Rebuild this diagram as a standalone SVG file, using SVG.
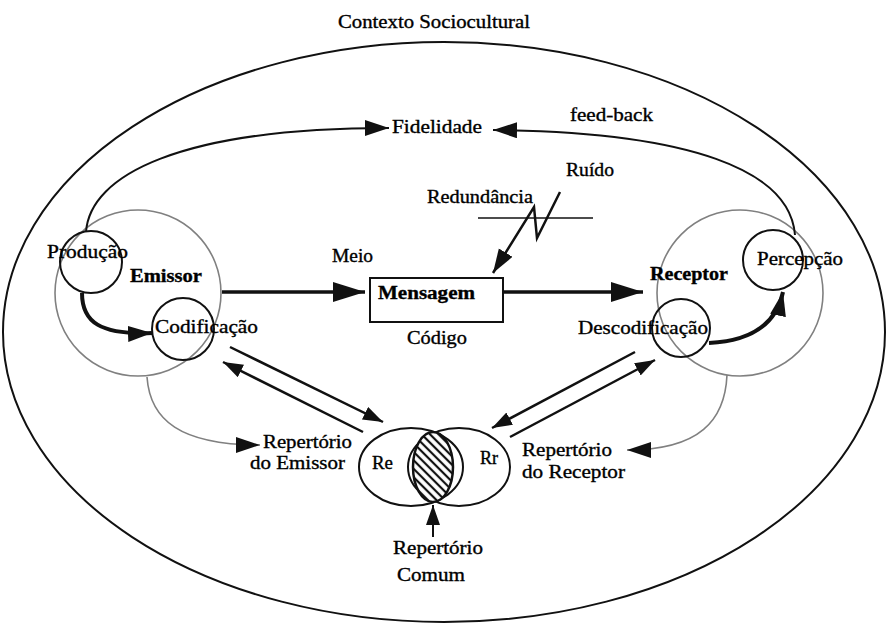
<svg xmlns="http://www.w3.org/2000/svg" width="888" height="627" viewBox="0 0 888 627">
<style>
text{font-family:"Liberation Serif","DejaVu Serif","Times New Roman",serif;font-size:18px;fill:#000;stroke:#000;stroke-width:0.35}
.b{font-weight:bold}
.k{fill:none;stroke:#111;stroke-width:2}
.g{fill:none;stroke:#808080;stroke-width:1.6}
.t{fill:none;stroke:#111;stroke-width:4}
</style>
<defs>
<marker id="big" markerUnits="userSpaceOnUse" markerWidth="34" markerHeight="22" refX="32" refY="10" orient="auto"><path d="M0,0 L32,10 L0,20 z" fill="#111"/></marker>
<marker id="med" markerUnits="userSpaceOnUse" markerWidth="26" markerHeight="18" refX="24" refY="8" orient="auto"><path d="M0,0 L24,8 L0,16 z" fill="#111"/></marker>
<marker id="sm" markerUnits="userSpaceOnUse" markerWidth="22" markerHeight="16" refX="20" refY="7" orient="auto"><path d="M0,0 L20,7 L0,14 z" fill="#111"/></marker>
<pattern id="hatch" patternUnits="userSpaceOnUse" width="6" height="6" patternTransform="rotate(45)"><rect width="6" height="6" fill="#fff"/><line x1="0" y1="3" x2="6" y2="3" stroke="#111" stroke-width="2.2"/></pattern>
</defs>
<rect width="888" height="627" fill="#fff"/>

<g id="contexto">
<ellipse cx="444" cy="332" rx="441" ry="290" class="k"/>
<text x="338" y="28" font-size="16" textLength="192" lengthAdjust="spacingAndGlyphs">Contexto Sociocultural</text>
</g>

<g id="emissor">
<circle cx="138" cy="293" r="83" class="g"/>
<text x="130" y="282" class="b" textLength="72" lengthAdjust="spacingAndGlyphs">Emissor</text>
</g>
<g id="producao">
<circle cx="91" cy="262" r="31" class="k"/>
<text x="47" y="258" textLength="81" lengthAdjust="spacingAndGlyphs">Produção</text>
</g>
<g id="codificacao">
<circle cx="183" cy="329" r="31" class="k"/>
<text x="155" y="333" textLength="103" lengthAdjust="spacingAndGlyphs">Codificação</text>
</g>

<g id="receptor">
<circle cx="740" cy="293" r="83" class="g"/>
<text x="650" y="280" class="b" textLength="78" lengthAdjust="spacingAndGlyphs">Receptor</text>
</g>
<g id="percepcao">
<circle cx="773" cy="260" r="30" class="k"/>
<text x="757" y="265" textLength="86" lengthAdjust="spacingAndGlyphs">Percepção</text>
</g>
<g id="descodificacao">
<circle cx="681" cy="328" r="29" class="k"/>
<text x="578" y="334" textLength="130" lengthAdjust="spacingAndGlyphs">Descodificação</text>
</g>

<g id="mensagem">
<rect x="370" y="278" width="133" height="44" fill="none" stroke="#111" stroke-width="2"/>
<text x="378" y="299" class="b" textLength="97" lengthAdjust="spacingAndGlyphs">Mensagem</text>
</g>
<g id="codigo"><text x="407" y="344" textLength="60" lengthAdjust="spacingAndGlyphs">Código</text></g>
<g id="meio"><text x="332" y="262" textLength="41" lengthAdjust="spacingAndGlyphs">Meio</text></g>
<g id="fidelidade"><text x="392" y="133" textLength="90" lengthAdjust="spacingAndGlyphs">Fidelidade</text></g>
<g id="feedback"><text x="570" y="121" textLength="83" lengthAdjust="spacingAndGlyphs">feed-back</text></g>
<g id="ruido"><text x="566" y="176" textLength="48" lengthAdjust="spacingAndGlyphs">Ruído</text></g>
<g id="redundancia">
<text x="427" y="203" textLength="106" lengthAdjust="spacingAndGlyphs">Redundância</text>
<line x1="478" y1="218" x2="593" y2="218" stroke="#111" stroke-width="1.5"/>
</g>

<g id="repertorio-emissor">
<text x="263" y="448" textLength="89" lengthAdjust="spacingAndGlyphs">Repertório</text>
<text x="250" y="469" textLength="95" lengthAdjust="spacingAndGlyphs">do Emissor</text>
</g>
<g id="repertorio-receptor">
<text x="522" y="456" textLength="90" lengthAdjust="spacingAndGlyphs">Repertório</text>
<text x="522" y="478" textLength="103" lengthAdjust="spacingAndGlyphs">do Receptor</text>
</g>
<g id="repertorio-comum">
<text x="393" y="554" textLength="90" lengthAdjust="spacingAndGlyphs">Repertório</text>
<text x="397" y="581" textLength="68" lengthAdjust="spacingAndGlyphs">Comum</text>
</g>

<g id="venn">
<ellipse cx="411" cy="467" rx="52" ry="39" class="k"/>
<ellipse cx="459" cy="467" rx="51" ry="39" class="k"/>
<ellipse cx="433" cy="467" rx="20" ry="35" fill="url(#hatch)" stroke="#111" stroke-width="2.5"/>
<text x="372" y="469" textLength="21" lengthAdjust="spacingAndGlyphs">Re</text>
<text x="480" y="464" textLength="18" lengthAdjust="spacingAndGlyphs">Rr</text>
</g>

<g id="connectors">
<path d="M222,292 L365,292" fill="none" stroke="#111" stroke-width="3.5" marker-end="url(#big)"/>
<path d="M503,292 L643,292" fill="none" stroke="#111" stroke-width="3.5" marker-end="url(#big)"/>
<path d="M86,232 C90,175 180,128 389,128" class="k" marker-end="url(#med)"/>
<path d="M795,235 C790,170 690,132 493,130" class="k" marker-end="url(#med)"/>
<path d="M82,293 C82,322 100,335 152,333" class="t" marker-end="url(#med)"/>
<path d="M709,343 C750,341 776,325 783,292" class="t" marker-end="url(#med)"/>
<path d="M560,192 L537,238 L534,207 L493,273" fill="none" stroke="#111" stroke-width="2.5" stroke-linejoin="miter" marker-end="url(#med)"/>
<path d="M230,347 L383,422" fill="none" stroke="#111" stroke-width="2.5" marker-end="url(#sm)"/>
<path d="M363,432 L223,362" fill="none" stroke="#111" stroke-width="2.5" marker-end="url(#sm)"/>
<path d="M635,352 L492,428" fill="none" stroke="#111" stroke-width="2.5" marker-end="url(#sm)"/>
<path d="M510,437 L655,360" fill="none" stroke="#111" stroke-width="2.5" marker-end="url(#sm)"/>
<path d="M147,377 C150,420 180,445 260,445" class="g" marker-end="url(#med)"/>
<path d="M727,375 C725,420 700,450 627,450" class="g" marker-end="url(#med)"/>
<path d="M433,537 L433,505" fill="none" stroke="#111" stroke-width="2" marker-end="url(#sm)"/>
</g>
</svg>
